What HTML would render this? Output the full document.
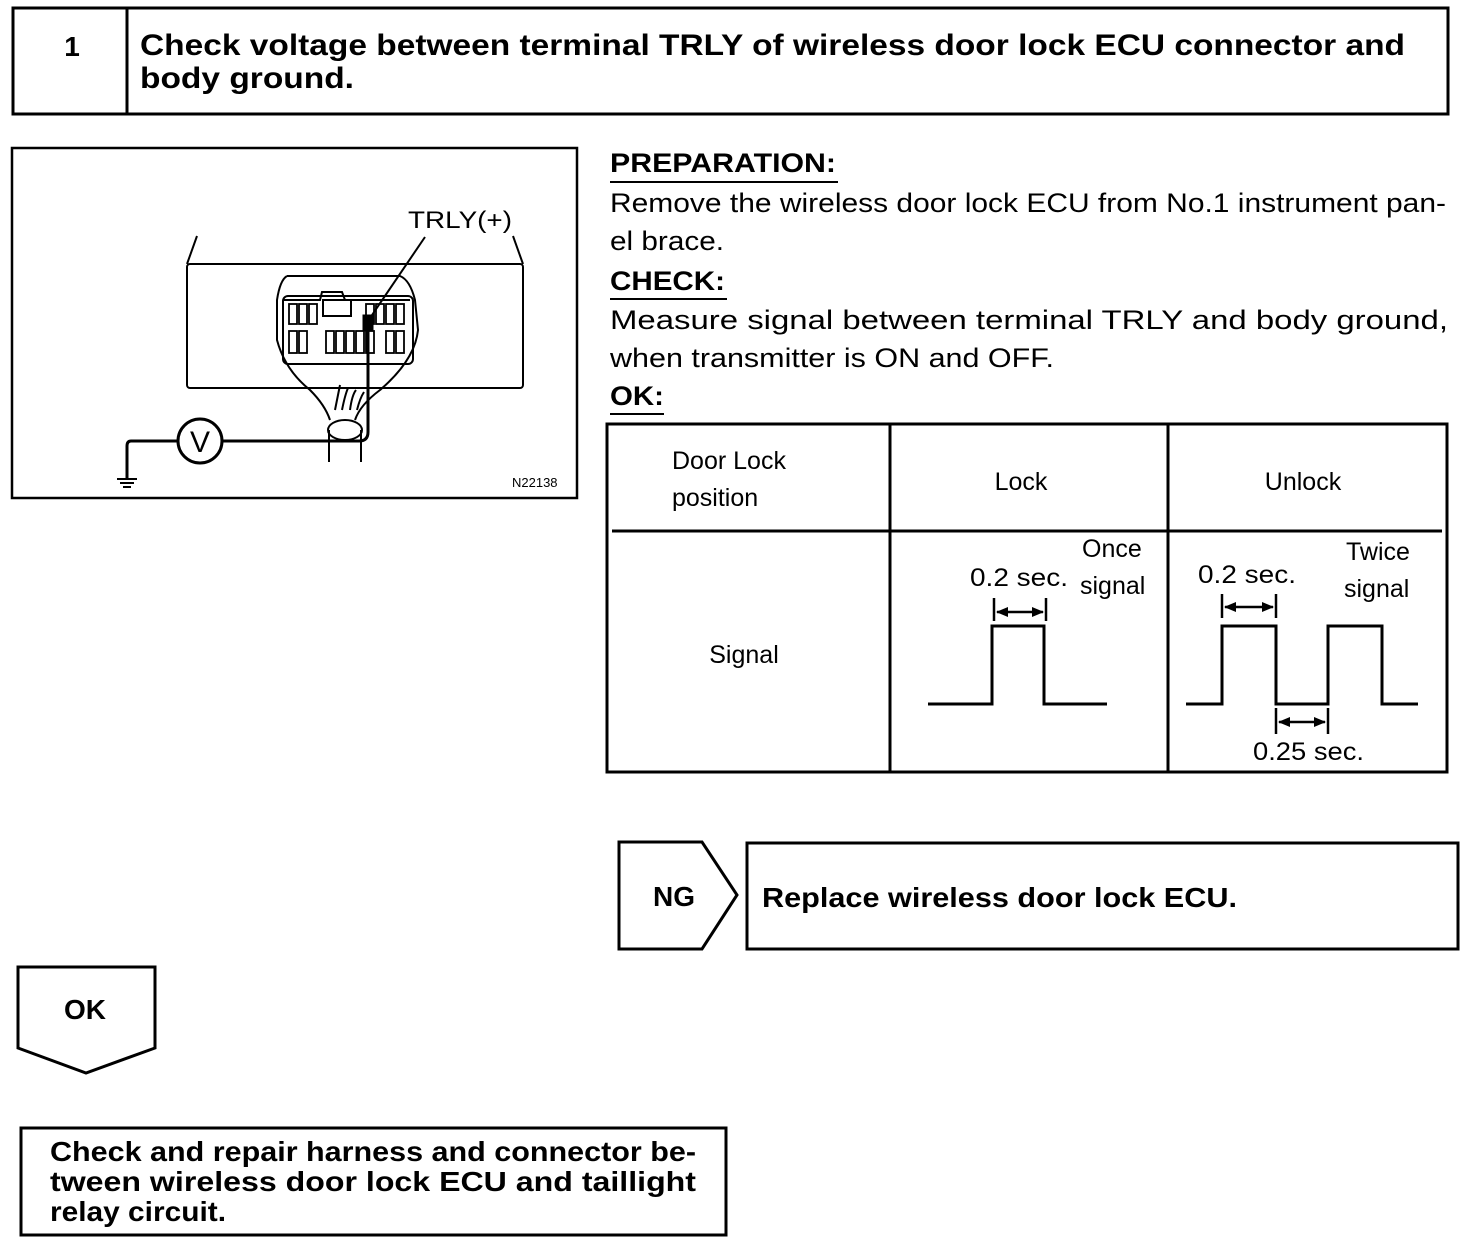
<!DOCTYPE html>
<html><head><meta charset="utf-8"><style>
html,body{margin:0;padding:0;background:#fff;}
svg{display:block;}
text{font-family:"Liberation Sans",Arial,sans-serif;fill:#000;}
.b{font-weight:bold;}
</style></head><body>
<svg width="1472" height="1242" viewBox="0 0 1472 1242" xmlns="http://www.w3.org/2000/svg">
<g fill="none" stroke="#000" stroke-width="3">
<rect x="13" y="8" width="1435" height="106"/>
<line x1="127" y1="8" x2="127" y2="114"/>
<rect x="12" y="148" width="565" height="350" stroke-width="2.5"/>
</g>
<text x="72" y="56" class="b" font-size="28" text-anchor="middle">1</text>
<text x="140" y="55" class="b" font-size="30" textLength="1265" lengthAdjust="spacingAndGlyphs">Check voltage between terminal TRLY of wireless door lock ECU connector and</text>
<text x="140" y="88" class="b" font-size="30" textLength="214" lengthAdjust="spacingAndGlyphs">body ground.</text>

<g fill="none" stroke="#000" stroke-width="2">
<line x1="197" y1="236" x2="187" y2="264"/>
<line x1="513" y1="236" x2="523" y2="264"/>
<rect x="187" y="264" width="336" height="124" rx="3"/>
<path d="M287 276 L400 276 Q410 280 415 300 L418 330 Q415 360 380 390 Q360 405 355 420 M287 276 Q280 280 277 300 L277 340 Q285 370 310 390 Q325 405 330 420"/>
<rect x="283" y="296" width="130" height="68" rx="5"/>
<path d="M283 300 L320 300 L322 292 L342 292 L345 300 L410 300"/>
<rect x="323" y="300" width="28" height="16"/>
<g stroke-width="1.8">
<rect x="289" y="304" width="8" height="20"/><rect x="299" y="304" width="8" height="20"/><rect x="309" y="304" width="8" height="20"/>
<rect x="366" y="304" width="8" height="20"/><rect x="376" y="304" width="8" height="20"/><rect x="386" y="304" width="8" height="20"/><rect x="396" y="304" width="8" height="20"/>
<rect x="289" y="331" width="8" height="22"/><rect x="299" y="331" width="8" height="22"/>
<rect x="326" y="331" width="8" height="22"/><rect x="336" y="331" width="8" height="22"/><rect x="346" y="331" width="8" height="22"/><rect x="356" y="331" width="8" height="22"/><rect x="366" y="331" width="8" height="22"/>
<rect x="386" y="331" width="8" height="22"/><rect x="396" y="331" width="8" height="22"/>
</g>
<path d="M335 410 Q338 395 340 385 M342 410 Q345 395 348 388 M350 410 Q352 395 356 390 M357 410 Q360 398 364 392"/>
<ellipse cx="345" cy="430" rx="17" ry="10"/>
<line x1="329" y1="430" x2="329" y2="462"/>
<line x1="361" y1="430" x2="361" y2="462"/>
<line x1="425" y1="237" x2="370" y2="318"/>
</g>
<g fill="none" stroke="#000" stroke-width="3">
<path d="M368 316 L368 432 Q368 441 359 441 L222 441"/>
<rect x="364" y="316" width="8" height="14" fill="#000"/>
<circle cx="200" cy="441" r="22"/>
<path d="M178 441 L131 441 Q127 441 127 446 L127 478"/>
<line x1="117" y1="479" x2="137" y2="479" stroke-width="2"/>
<line x1="120" y1="483" x2="134" y2="483" stroke-width="2"/>
<line x1="123" y1="487" x2="131" y2="487" stroke-width="2"/>
</g>
<text x="200" y="452" font-size="30" text-anchor="middle">V</text>
<text x="408" y="228" font-size="24" textLength="104" lengthAdjust="spacingAndGlyphs">TRLY(+)</text>
<text x="512" y="487" font-size="13">N22138</text>

<g font-size="27">
<text x="610" y="172" class="b" textLength="226" lengthAdjust="spacingAndGlyphs">PREPARATION:</text>
<line x1="610" y1="182" x2="838" y2="182" stroke="#000" stroke-width="2"/>
<text x="610" y="212" textLength="836" lengthAdjust="spacingAndGlyphs">Remove the wireless door lock ECU from No.1 instrument pan-</text>
<text x="610" y="250" textLength="114" lengthAdjust="spacingAndGlyphs">el brace.</text>
<text x="610" y="290" class="b" textLength="115" lengthAdjust="spacingAndGlyphs">CHECK:</text>
<line x1="610" y1="299" x2="727" y2="299" stroke="#000" stroke-width="2"/>
<text x="610" y="329" textLength="838" lengthAdjust="spacingAndGlyphs">Measure signal between terminal TRLY and body ground,</text>
<text x="610" y="367" textLength="444" lengthAdjust="spacingAndGlyphs">when transmitter is ON and OFF.</text>
<text x="610" y="405" class="b" textLength="54" lengthAdjust="spacingAndGlyphs">OK:</text>
<line x1="610" y1="414" x2="664" y2="414" stroke="#000" stroke-width="2"/>
</g>

<g fill="none" stroke="#000" stroke-width="3">
<rect x="607" y="424" width="840" height="348"/>
<line x1="890" y1="424" x2="890" y2="772"/>
<line x1="1168" y1="424" x2="1168" y2="772"/>
<line x1="612" y1="531" x2="1442" y2="531"/>
<path d="M928 704 L992 704 L992 626 L1044 626 L1044 704 L1107 704"/>
<path d="M1186 704 L1222 704 L1222 626 L1276 626 L1276 704 L1328 704 L1328 626 L1382 626 L1382 704 L1418 704"/>
<g stroke-width="2.5">
<line x1="994" y1="598" x2="994" y2="621"/><line x1="1046" y1="598" x2="1046" y2="621"/>
<line x1="997" y1="612" x2="1043" y2="612"/>
<line x1="1222" y1="594" x2="1222" y2="618"/><line x1="1276" y1="594" x2="1276" y2="618"/>
<line x1="1225" y1="607" x2="1273" y2="607"/>
<line x1="1276" y1="708" x2="1276" y2="734"/><line x1="1328" y1="708" x2="1328" y2="734"/>
<line x1="1279" y1="722" x2="1325" y2="722"/>
</g>
</g>
<g fill="#000">
<path d="M996 612 L1008 607 L1008 617 Z"/><path d="M1044 612 L1032 607 L1032 617 Z"/>
<path d="M1224 607 L1236 602 L1236 612 Z"/><path d="M1274 607 L1262 602 L1262 612 Z"/>
<path d="M1278 722 L1290 717 L1290 727 Z"/><path d="M1326 722 L1314 717 L1314 727 Z"/>
</g>
<g font-size="25">
<text x="672" y="469">Door Lock</text>
<text x="672" y="506">position</text>
<text x="1021" y="490" text-anchor="middle">Lock</text>
<text x="1303" y="490" text-anchor="middle">Unlock</text>
<text x="744" y="663" text-anchor="middle">Signal</text>
<text x="970" y="586" textLength="98" lengthAdjust="spacingAndGlyphs">0.2 sec.</text>
<text x="1082" y="557">Once</text>
<text x="1080" y="594">signal</text>
<text x="1198" y="583" textLength="98" lengthAdjust="spacingAndGlyphs">0.2 sec.</text>
<text x="1346" y="560">Twice</text>
<text x="1344" y="597">signal</text>
<text x="1253" y="760" textLength="111" lengthAdjust="spacingAndGlyphs">0.25 sec.</text>
</g>

<g fill="none" stroke="#000" stroke-width="3">
<path d="M619 842 L702 842 L737 895 L702 949 L619 949 Z"/>
<rect x="747" y="843" width="711" height="106"/>
<path d="M18 967 L155 967 L155 1048 L86 1073 L18 1048 Z"/>
<rect x="21" y="1128" width="705" height="107"/>
</g>
<text x="674" y="906" class="b" font-size="28" text-anchor="middle">NG</text>
<text x="762" y="907" class="b" font-size="28" textLength="475" lengthAdjust="spacingAndGlyphs">Replace wireless door lock ECU.</text>
<text x="85" y="1019" class="b" font-size="28" text-anchor="middle">OK</text>
<g class="b" font-size="28">
<text x="50" y="1161" textLength="646" lengthAdjust="spacingAndGlyphs">Check and repair harness and connector be-</text>
<text x="50" y="1191" textLength="646" lengthAdjust="spacingAndGlyphs">tween wireless door lock ECU and taillight</text>
<text x="50" y="1221" textLength="176" lengthAdjust="spacingAndGlyphs">relay circuit.</text>
</g>
</svg>
</body></html>
